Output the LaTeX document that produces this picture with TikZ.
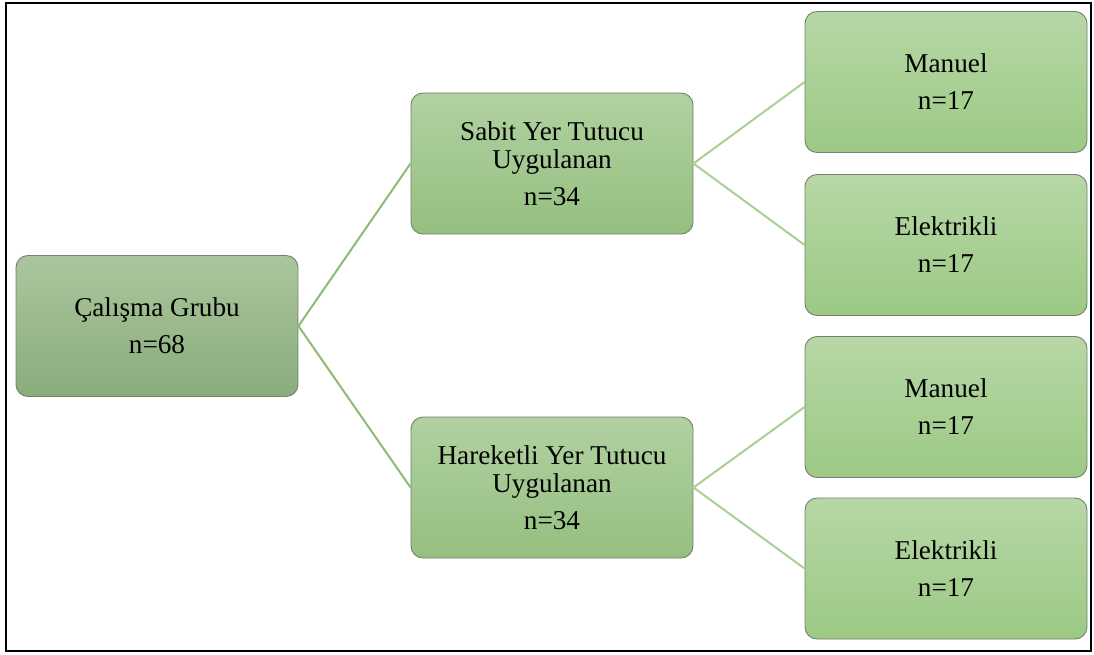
\documentclass[tikz,border=0pt]{standalone}
\usepackage{fontspec}
\setmainfont{Liberation Serif}
\newfontfamily\boxfont{Liberation Serif}
\usepackage{tikz}
\usetikzlibrary{positioning}
\definecolor{roottop}{HTML}{ABC69E}
\definecolor{rootbot}{HTML}{8AAC7B}
\definecolor{midtop}{HTML}{B1D1A1}
\definecolor{midbot}{HTML}{95BF80}
\definecolor{leaftop}{HTML}{B7D7A6}
\definecolor{leafbot}{HTML}{9CC984}
\definecolor{boxline}{HTML}{747F6E}
\definecolor{linkdark}{HTML}{8DBC70}
\definecolor{linklight}{HTML}{AACF96}

\tikzset{
  groupbox/.style={draw=boxline, line width=0.9pt, rounded corners=12pt,
    minimum width=282pt, minimum height=141pt, align=center,
    font=\boxfont\fontsize{27.2}{28}\selectfont},
  rootbox/.style={groupbox, top color=roottop, bottom color=rootbot},
  midbox/.style={groupbox, top color=midtop, bottom color=midbot},
  leafbox/.style={groupbox, top color=leaftop, bottom color=leafbot},
  link/.style={line width=2pt}
}

\begin{document}
\begin{tikzpicture}[x=1pt, y=-1pt]
    \useasboundingbox (0,0) rectangle (1094,655);
    \draw[line width=1.5pt] (6,3) rectangle (1091,651);

    % groups
    \node[rootbox] (root) at (157,326) {Çalışma Grubu\\[9pt]n=68};
    \node[midbox] (sabit) at (552,163.5) {Sabit Yer Tutucu\\Uygulanan\\[9pt]n=34};
    \node[midbox] (hareketli) at (552,487.5) {Hareketli Yer Tutucu\\Uygulanan\\[9pt]n=34};

    % subgroups
    \node[leafbox] (sabitman) at (946,82) {Manuel\\[9pt]n=17};
    \node[leafbox] (sabitelek) at (946,245) {Elektrikli\\[9pt]n=17};
    \node[leafbox] (harman) at (946,407) {Manuel\\[9pt]n=17};
    \node[leafbox] (harelek) at (946,568.5) {Elektrikli\\[9pt]n=17};

    \draw[link, linkdark] (sabit.west) -- (root.east) -- (hareketli.west);
    \draw[link, linklight] (sabitman.west) -- (sabit.east) -- (sabitelek.west);
    \draw[link, linklight] (harman.west) -- (hareketli.east) -- (harelek.west);
\end{tikzpicture}
\end{document}
